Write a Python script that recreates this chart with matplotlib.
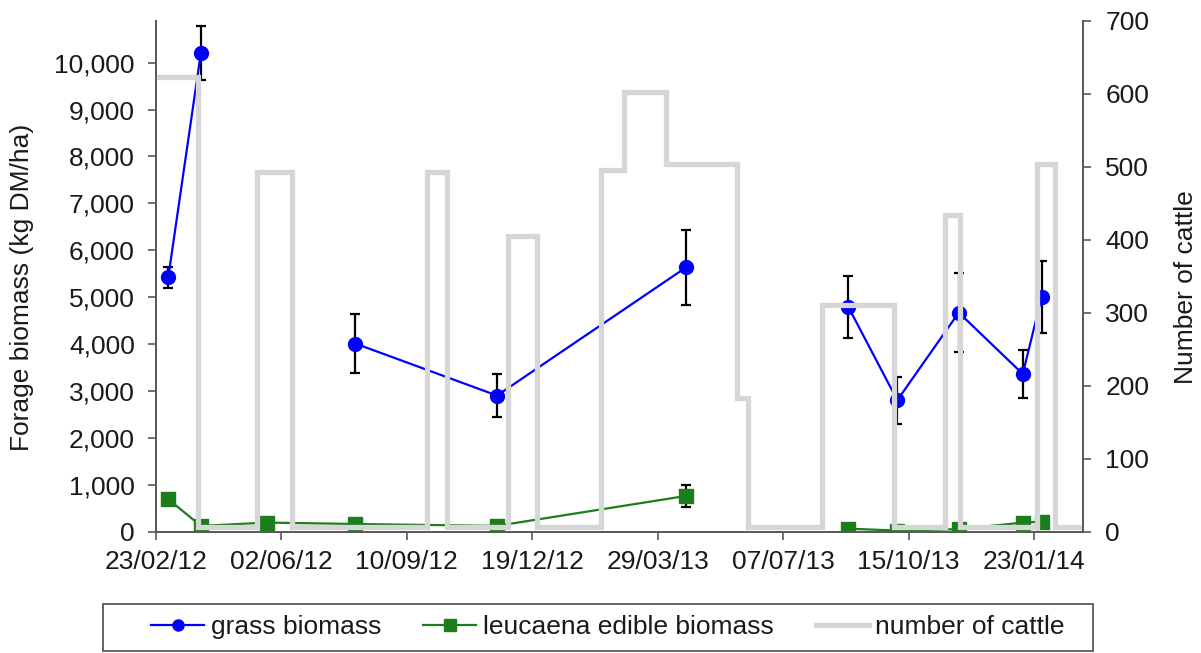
import numpy as np
import pandas as pd
import matplotlib
matplotlib.use("Agg")
import matplotlib.pyplot as plt
import matplotlib.dates as mdates
from matplotlib.lines import Line2D
from matplotlib.patches import Rectangle
from matplotlib.ticker import FuncFormatter, FixedLocator

# ---------------- data ----------------
grass_dates = ["2012-03-04", "2012-03-30", "2012-07-31", "2012-11-21", "2013-04-21",
               "2013-08-28", "2013-10-06", "2013-11-24", "2014-01-14", "2014-01-29"]
grass_biomass = [5420, 10210, 4010, 2900, 5640, 4790, 2800, 4670, 3360, 5000]
grass_err = [220, 580, 620, 450, 800, 660, 500, 840, 510, 770]
# consecutive points that are joined by a line (gaps between groups)
grass_segments = [[0, 1], [2, 3, 4], [5, 6, 7, 8, 9]]

leucaena_dates = ["2012-03-04", "2012-03-30", "2012-05-22", "2012-07-31", "2012-11-21",
                  "2013-04-21", "2013-08-28", "2013-10-06", "2013-11-24", "2014-01-14",
                  "2014-01-29"]
leucaena_biomass = [690, 120, 190, 160, 120, 760, 60, 20, 50, 190, 210]
leucaena_err = [0, 0, 0, 0, 0, 230, 0, 0, 0, 0, 70]
leucaena_segments = [[0, 1, 2, 3, 4, 5], [6, 7, 8, 9, 10]]

cattle_dates = ["2012-02-23", "2012-03-28", "2012-05-14", "2012-06-11", "2012-09-26",
                "2012-10-12", "2012-11-30", "2012-12-23", "2013-02-12", "2013-03-02",
                "2013-04-05", "2013-05-31", "2013-06-09", "2013-08-07", "2013-10-03",
                "2013-11-13", "2013-11-25", "2014-01-25", "2014-02-09", "2014-03-03"]
number_of_cattle = [622, 6, 492, 6, 492, 6, 405, 6, 495, 602,
                    504, 183, 6, 310, 6, 433, 6, 504, 6, 6]

x_tick_labels = ["23/02/12", "02/06/12", "10/09/12", "19/12/12",
                 "29/03/13", "07/07/13", "15/10/13", "23/01/14"]
left_ticks = [0, 1000, 2000, 3000, 4000, 5000, 6000, 7000, 8000, 9000, 10000]
right_ticks = [0, 100, 200, 300, 400, 500, 600, 700]

# ---------------- style ----------------
plt.rcParams["font.family"] = ["Liberation Sans", "DejaVu Sans"]
FS = 19
TXT = "#1a1a1a"
SPINE = "#595959"
BLUE = "#0000ff"
GREEN = "#1b7d1b"
GREY = "#d6d6d6"

W, H = 1201, 653
fig = plt.figure(figsize=(W / 100, H / 100), dpi=100)
L, R, B, T = 155.7, 1083.0, 531.5, 20.5
ax = fig.add_axes([L / W, 1 - B / H, (R - L) / W, (B - T) / H])
ax2 = ax.twinx()

gd = pd.to_datetime(grass_dates)
ld = pd.to_datetime(leucaena_dates)
cd = pd.to_datetime(cattle_dates)
gv = np.array(grass_biomass, dtype=float)
lv = np.array(leucaena_biomass, dtype=float)

# grass biomass
ax.errorbar(gd, gv, yerr=grass_err, fmt="none", ecolor="black",
            elinewidth=1.6, capsize=3.8, capthick=1.6, zorder=2)
for seg in grass_segments:
    ax.plot(gd[seg], gv[seg], color=BLUE, lw=1.6, zorder=3)
ax.plot(gd, gv, ls="none", marker="o", ms=10, mfc=BLUE, mec=BLUE, zorder=4)

# leucaena
le = np.array(leucaena_err, dtype=float)
mask = le > 0
ax.errorbar(ld[mask], lv[mask], yerr=le[mask], fmt="none",
            ecolor="black", elinewidth=1.6, capsize=3.8, capthick=1.6, zorder=2)
for seg in leucaena_segments:
    ax.plot(ld[seg], lv[seg], color=GREEN, lw=1.6, zorder=3)
ax.plot(ld, lv, ls="none", marker="s", ms=9.5, mfc=GREEN, mec=GREEN, zorder=4)

# cattle (secondary axis, drawn on top)
ax2.plot(cd, number_of_cattle, color=GREY, lw=3.8, drawstyle="steps-post",
         solid_joinstyle="miter", zorder=1)

# ---------------- axes ----------------
start = pd.Timestamp("2012-02-23")
tick_dates = [start + pd.Timedelta(days=100 * i) for i in range(len(x_tick_labels))]
ax.set_xlim(mdates.date2num(start), mdates.date2num(pd.Timestamp("2014-03-03")))
ax.xaxis.set_major_locator(FixedLocator(mdates.date2num(tick_dates)))
ax.set_xticklabels(x_tick_labels)

ax.set_ylim(0, 10900)
ax.set_yticks(left_ticks)
ax.yaxis.set_major_formatter(FuncFormatter(lambda v, p: f"{int(v):,}"))
ax2.set_ylim(0, 700)
ax2.set_yticks(right_ticks)

for a in (ax, ax2):
    a.spines["top"].set_visible(False)
    for s in ("left", "right", "bottom"):
        a.spines[s].set_color(SPINE)
        a.spines[s].set_linewidth(1.3)
    a.patch.set_visible(False)

ax.tick_params(axis="both", labelsize=FS, colors=TXT, length=6, width=1.2,
               direction="out")
ax.tick_params(axis="x", pad=7, color=SPINE)
ax.tick_params(axis="y", pad=9, color=SPINE)
ax2.tick_params(axis="y", labelsize=FS, colors=TXT, length=6, width=1.2,
                direction="out", pad=10, color=SPINE)

ax.set_ylabel("Forage biomass (kg DM/ha)", fontsize=FS, color=TXT,
              va="center", ha="center")
ax.yaxis.set_label_coords((22 - L) / (R - L), (B - 287) / (B - T))
ax2.set_ylabel("Number of cattle", fontsize=FS, color=TXT,
               va="center", ha="center", rotation=90)
ax2.yaxis.set_label_coords((1186 - L) / (R - L), (B - 287) / (B - T))

# ---------------- legend ----------------
handles = [
    Line2D([], [], color=BLUE, lw=1.6, marker="o", ms=8, mfc=BLUE, mec=BLUE),
    Line2D([], [], color=GREEN, lw=1.6, marker="s", ms=8, mfc=GREEN, mec=GREEN),
    Line2D([], [], color=GREY, lw=3.8),
]
labels = ["grass biomass", "leucaena edible biomass", "number of cattle"]
fig.legend(handles, labels, loc="center", ncol=3, frameon=False, fontsize=FS,
           bbox_to_anchor=(608 / W, 1 - 627 / H), handlelength=2.0,
           handletextpad=0.25, columnspacing=1.6, numpoints=1,
           labelcolor=TXT)
fig.patches.append(Rectangle((103 / W, 1 - 651 / H), 990 / W, 47 / H,
                             transform=fig.transFigure, fill=False,
                             edgecolor=SPINE, lw=1.3))

fig.savefig("out.png", dpi=100)
